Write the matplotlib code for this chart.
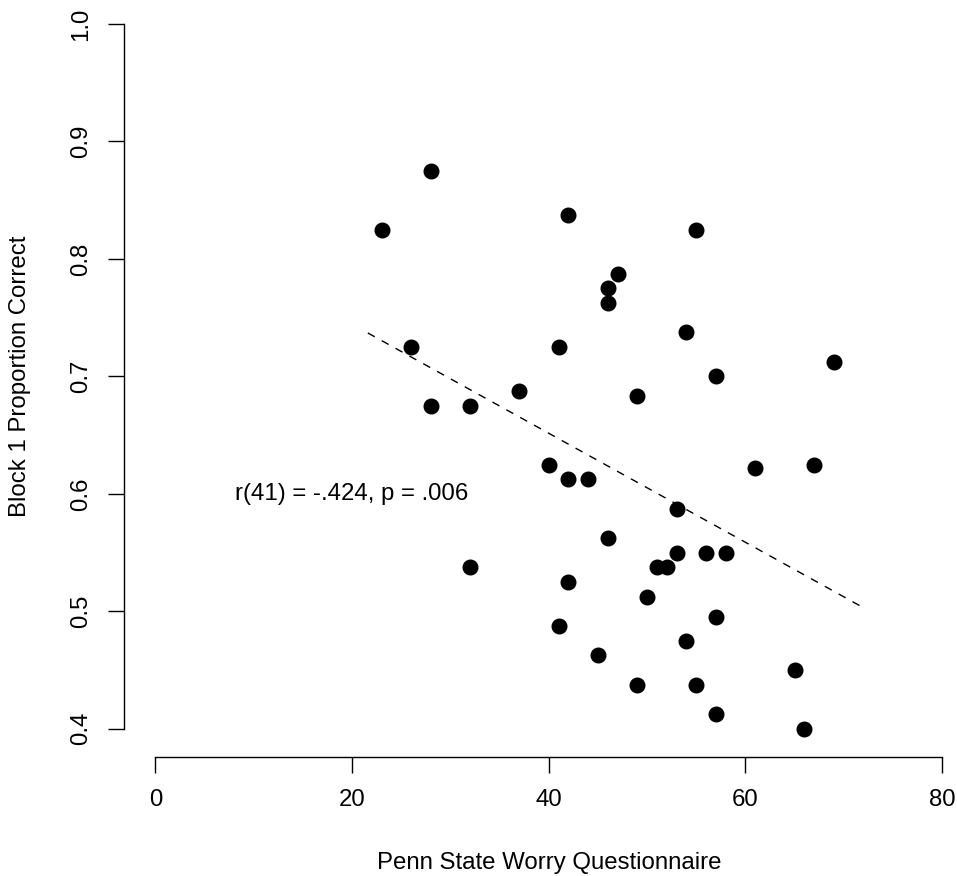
import numpy as np
import matplotlib.pyplot as plt

plt.rcParams['font.family'] = ['Liberation Sans', 'DejaVu Sans']

# Puntajes PSWQ y proporcion correcta en el bloque 1
pswq = [23, 28, 26, 28, 32, 32, 37, 40, 41, 41, 42, 42, 42, 44, 45, 46, 46, 46, 47, 49,
        49, 50, 51, 52, 53, 53, 54, 54, 55, 55, 56, 57, 57, 57, 58, 61, 65, 66, 67, 69]
prop = [0.825, 0.875, 0.725, 0.675, 0.675, 0.5375, 0.6875, 0.625, 0.725, 0.4875,
        0.8375, 0.6125, 0.525, 0.6125, 0.4625, 0.775, 0.7625, 0.5625, 0.7875, 0.683,
        0.4375, 0.5125, 0.5375, 0.5375, 0.5875, 0.55, 0.7375, 0.475, 0.825, 0.4375,
        0.55, 0.7, 0.495, 0.4125, 0.55, 0.622, 0.45, 0.4, 0.625, 0.7125]

# Recta de regresion
intercepto = 0.8372
pendiente = -0.00464
x_recta = np.array([21.6, 72.05])

xticks = [0, 20, 40, 60, 80]
yticks = [0.4, 0.5, 0.6, 0.7, 0.8, 0.9, 1.0]

fs = 17.3

fig = plt.figure(figsize=(9.57, 8.76), dpi=100)
W, H = 957, 876
ax = fig.add_axes([124 / W, (H - 757) / H, 849.5 / W, 761.2 / H])

ax.plot(pswq, prop, 'o', color='black', markersize=10.5, clip_on=False)
ax.plot(x_recta, intercepto + pendiente * x_recta, color='black', lw=1.0,
        dashes=(5.7, 5.7))
ax.text(20, 0.6, 'r(41) = -.424, p = .006', fontsize=fs, ha='center', va='center')

ax.set_xlim(-3.2, 83.2)
ax.set_ylim(0.376, 1.024)
ax.set_xticks(xticks)
ax.set_xticklabels([str(t) for t in xticks])
ax.set_yticks(yticks)
ax.set_yticklabels(['%.1f' % t for t in yticks])

for s in ['top', 'right']:
    ax.spines[s].set_visible(False)
ax.spines['left'].set_bounds(0.4, 1.0)
ax.spines['bottom'].set_bounds(0, 80)
for s in ['left', 'bottom']:
    ax.spines[s].set_linewidth(1.0)

ax.tick_params(axis='both', direction='out', length=11.2, width=1.0, labelsize=fs, pad=12)
for lbl in ax.get_yticklabels():
    lbl.set_rotation(90)
    lbl.set_va('center')
    lbl.set_ha('right')

fig.text(549 / W, 7 / H, 'Penn State Worry Questionnaire', fontsize=fs,
         ha='center', va='baseline')
fig.text(20 / W, 1 - 376 / H, 'Block 1 Proportion Correct', fontsize=fs,
         ha='center', va='center', rotation=90)

fig.savefig('out.png', dpi=100)
